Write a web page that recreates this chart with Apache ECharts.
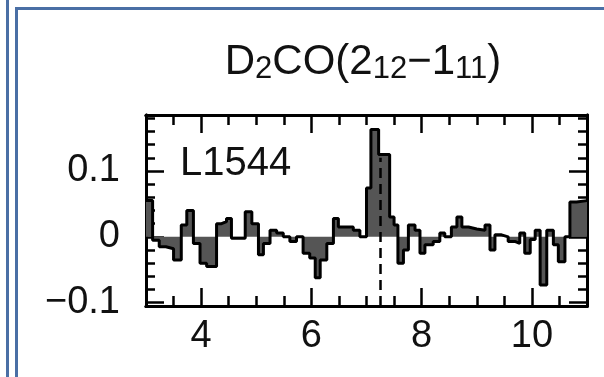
<!DOCTYPE html>
<html>
<head>
<meta charset="utf-8">
<script src="https://cdn.jsdelivr.net/npm/echarts@6/dist/echarts.min.js"></script>
<style>
  html, body { margin: 0; padding: 0; background: #fff; }
  #spectrum { width: 604px; height: 377px; }
</style>
</head>
<body>
<div id="spectrum"></div>
<script>
// ------------------------------------------------------- //
// Data (left channel edge, T value)
// ------------------------------------------------------ //
var chanEdges = [3.00, 3.12, 3.24, 3.36, 3.50, 3.64, 3.74, 3.86, 3.98, 4.10,
                 4.28, 4.37, 4.46, 4.55, 4.64, 4.80, 4.92, 5.04, 5.13, 5.25,
                 5.37, 5.49, 5.61, 5.73, 5.85, 5.97, 6.07, 6.16, 6.28, 6.40,
                 6.49, 6.58, 6.76, 6.88, 7.00, 7.08, 7.22, 7.42, 7.50, 7.57,
                 7.67, 7.76, 7.88, 7.97, 8.06, 8.21, 8.33, 8.42, 8.54, 8.64,
                 8.73, 8.85, 9.00, 9.15, 9.24, 9.33, 9.45, 9.57, 9.69, 9.78,
                 9.87, 9.97, 10.06, 10.15, 10.27, 10.39, 10.48, 10.60, 10.69, 10.81];
var chanLast = 11.0;
var chanTemp = [0.055, -0.005, -0.015, -0.018, -0.035, 0.018, 0.040, -0.010, -0.040, -0.045,
                0.020, 0.023, 0.028, -0.002, -0.002, 0.038, 0.020, -0.027, -0.010, 0.010,
                0.006, 0.000, -0.007, 0.000, -0.025, -0.032, -0.062, -0.035, -0.010, 0.028,
                0.015, 0.015, 0.010, 0.000, 0.074, 0.163, 0.125, 0.030, 0.018, -0.040,
                -0.020, 0.018, 0.010, -0.025, -0.012, -0.007, 0.006, 0.000, 0.015, 0.030,
                0.015, 0.012, 0.010, 0.018, -0.020, 0.003, 0.000, -0.007, -0.010, 0.006,
                -0.025, -0.004, 0.010, -0.073, 0.010, -0.012, -0.038, 0.000, 0.053, 0.055];
var vSource = 7.25;
var vLineTop = 0.12;

var xMajor = [4, 6, 8, 10];
var yMajor = [-0.1, 0, 0.1];
var yMinor = [-0.1, -0.08, -0.06, -0.04, -0.02, 0, 0.02, 0.04, 0.06, 0.08, 0.1, 0.12, 0.14, 0.16, 0.18];

var fontFam = '"Liberation Sans", Arial, Helvetica, sans-serif';
var frameBlue = '#4a6fa5';

var stepData = chanEdges.map(function (x, i) { return [x, chanTemp[i]]; });
stepData.push([chanLast, chanTemp[chanTemp.length - 1]]);

function xAx(pos, big) {
    return {
        type: 'value', min: 3, max: 11, position: pos, interval: 0.5,
        axisLine: {show: true, onZero: false, lineStyle: {color: '#000', width: 3}},
        axisTick: big
            ? {show: true, inside: true, length: 18, customValues: xMajor, lineStyle: {color: '#000', width: 2.5}}
            : {show: true, inside: true, length: 10, lineStyle: {color: '#000', width: 2.5}},
        axisLabel: (big && pos === 'bottom')
            ? {show: true, customValues: xMajor, margin: 12, fontSize: 38, fontFamily: fontFam, color: '#111'}
            : {show: false},
        splitLine: {show: false}
    };
}
function yAx(pos, big) {
    return {
        type: 'value', min: -0.105, max: 0.185, position: pos,
        axisLine: {show: true, onZero: false, lineStyle: {color: '#000', width: 3}},
        axisTick: {show: true, inside: true, length: big ? 18 : 9,
                   customValues: big ? yMajor : yMinor, lineStyle: {color: '#000', width: 2.5}},
        axisLabel: (big && pos === 'left')
            ? {show: true, customValues: yMajor, margin: 26, fontSize: 38, fontFamily: fontFam, color: '#111',
               formatter: function (v) { return v < 0 ? '\u2212' + String(Math.abs(v)) : String(v); }}
            : {show: false},
        splitLine: {show: false}
    };
}

// ------------------------------------------------------- //
// Spectrum chart
// ------------------------------------------------------ //
var chartSpec = echarts.init(document.getElementById('spectrum'));
var optionSpec = {
    animation: false,
    backgroundColor: '#fff',
    title: {
        text: '{m|D}{s|2}{m|CO(2}{s|12}{m|\u22121}{s|11}{m|)}',
        left: 358, top: 34, textAlign: 'center',
        textStyle: {
            fontWeight: 'normal',
            rich: {
                m: {fontSize: 42, lineHeight: 46, fontWeight: 'normal', fontFamily: fontFam, color: '#111'},
                s: {fontSize: 31, lineHeight: 23, fontWeight: 'normal', verticalAlign: 'bottom', fontFamily: fontFam, color: '#111'}
            }
        }
    },
    grid: {left: 146, right: 17, top: 115, bottom: 71, show: false},
    xAxis: [xAx('bottom', false), xAx('bottom', true), xAx('top', false), xAx('top', true)],
    yAxis: [yAx('left', false), yAx('left', true), yAx('right', false), yAx('right', true)],
    graphic: [
        {type: 'rect', shape: {x: 6, y: 0, width: 3, height: 377}, style: {fill: frameBlue}},
        {type: 'rect', shape: {x: 15, y: 7, width: 3, height: 370}, style: {fill: frameBlue}},
        {type: 'rect', shape: {x: 15, y: 7, width: 589, height: 3}, style: {fill: frameBlue}},
        {type: 'text', left: 180, top: 144, style: {text: 'L1544', fontSize: 40, fontFamily: fontFam, fill: '#111'}}
    ],
    series: [{
        type: 'line',
        xAxisIndex: 0, yAxisIndex: 0,
        step: 'end',
        showSymbol: false,
        data: stepData,
        lineStyle: {color: '#000', width: 3},
        areaStyle: {color: '#555', opacity: 1, origin: 'auto'},
        markLine: {
            silent: true, symbol: 'none',
            label: {show: false},
            lineStyle: {color: '#000', width: 2.5, type: [10, 6]},
            data: [[{coord: [vSource, -0.105]}, {coord: [vSource, vLineTop]}]]
        }
    }]
};
chartSpec.setOption(optionSpec);
</script>
</body>
</html>
